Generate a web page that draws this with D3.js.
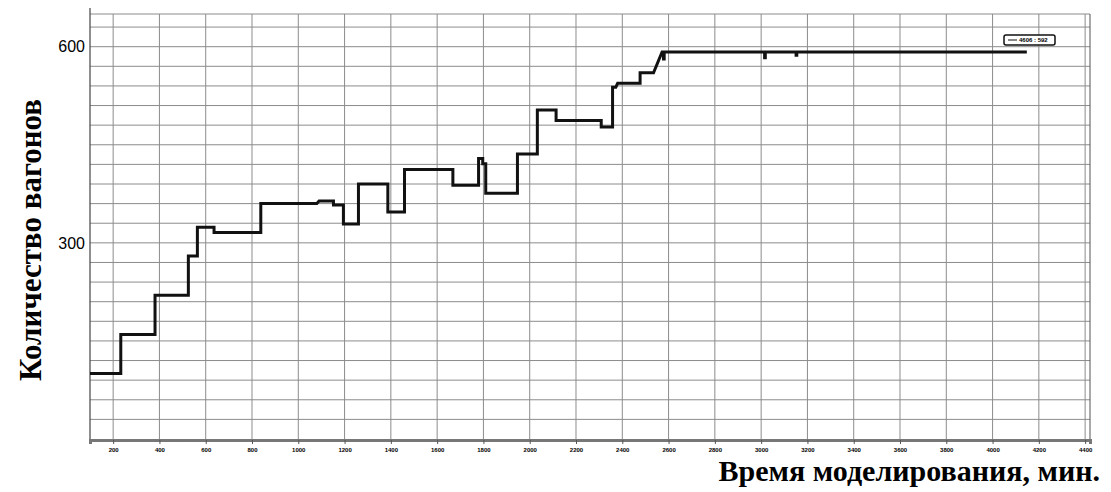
<!DOCTYPE html>
<html lang="ru">
<head>
  <meta charset="utf-8">
  <title>Количество вагонов</title>
  <script src="https://d3js.org/d3.v7.min.js"></script>
  <style>
    body { margin: 0; background: #fff; }
    .grade line { stroke: #8c8c8c; stroke-width: 1; }
    .eixo text { font-family: "Liberation Sans", Arial, sans-serif; font-weight: bold; }
    .titulo { font-family: "Liberation Serif", "Times New Roman", serif; font-weight: bold; }
  </style>
</head>
<body>
  <div id="chart"></div>

  <script type="text/javascript">
    "use strict"

    // vertices da curva (minutos, vagões)
    var minutos = [100, 233, 233, 381, 381, 525, 525, 564, 564, 636, 636, 838, 838, 1080, 1090,
      1152, 1152, 1195, 1195, 1260, 1260, 1387, 1387, 1459, 1459, 1668, 1668, 1779, 1779, 1797,
      1797, 1810, 1810, 1947, 1947, 2033, 2033, 2114, 2114, 2309, 2309, 2358, 2358, 2372, 2380,
      2477, 2477, 2535, 2572, 2578, 2578, 2581, 2581, 3015, 3015, 3018, 3018, 3151, 3151, 3154,
      3154, 4148];
    var vagoes = [100, 100, 160, 160, 220, 220, 280, 280, 324, 324, 316, 316, 360, 360, 364,
      364, 358, 358, 329, 329, 390, 390, 347, 347, 412, 412, 388, 388, 429, 429,
      421, 421, 376, 376, 436, 436, 503, 503, 487, 487, 477, 477, 538, 538, 544,
      544, 560, 560, 592, 592, 581, 581, 592, 592, 583, 583, 592, 592, 587, 587,
      592, 592];

    var ticksX = d3.range(200, 4401, 200);
    var ticksY = [300, 600];
    var gradeY = d3.range(30, 631, 30);
    var legenda = "4606 : 592";

    var larguraSVG = 1111, alturaSVG = 492;
    var margin = {top: 14, right: 21, bottom: 53, left: 90};

    var svg = d3.select('#chart')
      .append('svg')
        .attr('width', larguraSVG)
        .attr('height', alturaSVG);

    var x = d3.scaleLinear()
              .domain([100, 4421])
              .range([margin.left, larguraSVG - margin.right]);

    var y = d3.scaleLinear()
              .domain([0, 650])
              .range([alturaSVG - margin.bottom, margin.top]);

    /*
     * A grade
     */
    var grade = svg.append('g').attr('class', 'grade');

    grade.selectAll('.gv')
      .data(ticksX)
      .enter().append('line')
        .attr('x1', d => x(d)).attr('x2', d => x(d))
        .attr('y1', y(650)).attr('y2', y(0));

    grade.selectAll('.gh')
      .data(gradeY.concat([650]))
      .enter().append('line')
        .attr('x1', x(100)).attr('x2', x(4421))
        .attr('y1', d => y(d)).attr('y2', d => y(d));

    // borda direita
    grade.append('line')
      .attr('x1', x(4421)).attr('x2', x(4421))
      .attr('y1', y(650)).attr('y2', y(0))
      .style('stroke', '#555');

    /*
     * Os eixos
     */
    svg.append('line')
      .attr('x1', x(100)).attr('x2', x(100))
      .attr('y1', 8).attr('y2', y(0))
      .style('stroke', '#444').style('stroke-width', 1.2);

    var eixoX = svg.append('g')
      .attr('class', 'eixo')
      .attr('transform', 'translate(0,' + (y(0) + 1) + ')')
      .call(d3.axisBottom(x).tickValues(ticksX).tickSize(4).tickFormat(d3.format('d')));
    eixoX.select('.domain').style('stroke', '#777').style('stroke-width', 3);
    eixoX.selectAll('.tick line').style('stroke', '#555');
    eixoX.selectAll('text').attr('font-size', 6).attr('dy', '0.8em');

    // tiques menores
    eixoX.selectAll('.menor')
      .data(d3.range(150, 4421, 50).filter(d => d % 200 !== 0))
      .enter().append('line')
        .attr('x1', d => x(d)).attr('x2', d => x(d))
        .attr('y1', 0).attr('y2', 2)
        .style('stroke', '#777');

    svg.append('g')
      .selectAll('text')
      .data(ticksY)
      .enter().append('text')
        .attr('x', 85)
        .attr('y', d => y(d))
        .attr('dy', '0.36em')
        .attr('text-anchor', 'end')
        .style('font-family', '"Liberation Sans", Arial, sans-serif')
        .style('font-size', '16px')
        .text(d => d);

    /*
     * A curva
     */
    var pontos = minutos.map((m, i) => [m, vagoes[i]]);

    svg.append('path')
      .datum(pontos)
      .attr('fill', 'none')
      .attr('stroke', '#111')
      .attr('stroke-width', 3)
      .attr('stroke-linejoin', 'miter')
      .attr('d', d3.line().x(d => x(d[0])).y(d => y(d[1])));

    /*
     * Legenda
     */
    var leg = svg.append('g').attr('transform', 'translate(1004,35)');
    leg.append('rect')
      .attr('width', 51).attr('height', 10).attr('rx', 2)
      .attr('fill', '#fff').attr('stroke', '#111').attr('stroke-width', 1.5);
    leg.append('line')
      .attr('x1', 4).attr('x2', 13).attr('y1', 5).attr('y2', 5)
      .attr('stroke', '#111');
    leg.append('text')
      .attr('x', 15).attr('y', 7.3)
      .style('font-family', '"Liberation Sans", Arial, sans-serif')
      .style('font-weight', 'bold')
      .style('font-size', '6px')
      .text(legenda);

    /*
     * Títulos
     */
    svg.append('text')
      .attr('class', 'titulo')
      .attr('transform', 'translate(41,240) rotate(-90)')
      .attr('text-anchor', 'middle')
      .style('font-size', '31px')
      .text('Количество вагонов');

    svg.append('text')
      .attr('class', 'titulo')
      .attr('x', 1100).attr('y', 481)
      .attr('text-anchor', 'end')
      .style('font-size', '30px')
      .text('Время моделирования, мин.');
  </script>
</body>
</html>
